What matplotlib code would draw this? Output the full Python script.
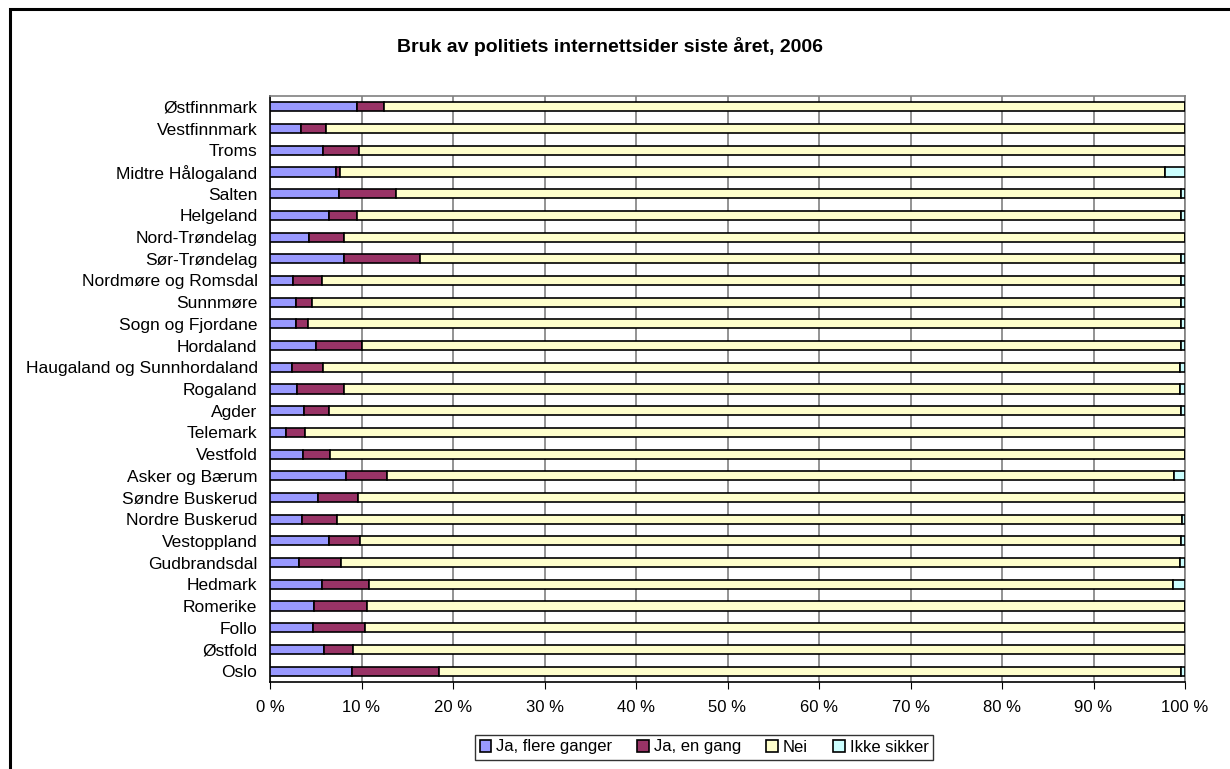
import numpy as np
import matplotlib
matplotlib.use('Agg')
import matplotlib.pyplot as plt
from matplotlib.patches import Rectangle

plt.rcParams['font.family'] = ['Liberation Sans', 'DejaVu Sans']

regions = ['Østfinnmark', 'Vestfinnmark', 'Troms', 'Midtre Hålogaland', 'Salten',
           'Helgeland', 'Nord-Trøndelag', 'Sør-Trøndelag', 'Nordmøre og Romsdal',
           'Sunnmøre', 'Sogn og Fjordane', 'Hordaland', 'Haugaland og Sunnhordaland',
           'Rogaland', 'Agder', 'Telemark', 'Vestfold', 'Asker og Bærum',
           'Søndre Buskerud', 'Nordre Buskerud', 'Vestoppland', 'Gudbrandsdal',
           'Hedmark', 'Romerike', 'Follo', 'Østfold', 'Oslo']

flere = [9.5, 3.35, 5.75, 7.2, 7.5, 6.4, 4.3, 8.1, 2.55,
         2.8, 2.8, 5.0, 2.4, 3.0, 3.7, 1.75, 3.6, 8.3,
         5.2, 3.45, 6.45, 3.2, 5.65, 4.85, 4.65, 5.95, 9.0]
en_gang = [3.0, 2.75, 3.95, 0.5, 6.3, 3.1, 3.8, 8.3, 3.15,
           1.75, 1.4, 5.0, 3.4, 5.1, 2.8, 2.05, 3.0, 4.45,
           4.45, 3.85, 3.35, 4.6, 5.15, 5.75, 5.75, 3.15, 9.5]
ikke = [0, 0, 0, 2.15, 0.45, 0.45, 0, 0.45, 0.45,
        0.45, 0.45, 0.45, 0.6, 0.6, 0.45, 0, 0, 1.15,
        0, 0.35, 0.45, 0.5, 1.35, 0, 0, 0, 0.45]
nei = [100 - a - b - c for a, b, c in zip(flere, en_gang, ikke)]

series = [('Ja, flere ganger', flere, '#9999FF'),
          ('Ja, en gang', en_gang, '#993366'),
          ('Nei', nei, '#FFFFCC'),
          ('Ikke sikker', ikke, '#CCFFFF')]

fig = plt.figure(figsize=(12.3, 7.69), dpi=100)
ax = fig.add_axes([270/1230, 1 - 682/769, 915/1230, 586/769])

y = np.arange(len(regions))[::-1]
left = np.zeros(len(regions))
for name, vals, col in series:
    vals = np.array(vals)
    ax.barh(y, vals, left=left, height=0.42, color=col, edgecolor='black',
            linewidth=1.2, label=name, zorder=3)
    left += vals

ax.set_xlim(0, 100)
ax.set_ylim(-0.5, len(regions) - 0.5)
ax.set_xticks(np.arange(0, 101, 10))
ax.set_xticklabels(['%d %%' % v for v in range(0, 101, 10)], fontsize=12)
ax.set_yticks(y)
ax.set_yticklabels(regions, fontsize=12.5)
ax.tick_params(axis='y', length=0, pad=9)
ax.tick_params(axis='x', length=5, direction='out', pad=8)
ax.grid(axis='x', color='#808080', linewidth=1.2, zorder=0)
for s in ['top', 'right']:
    ax.spines[s].set_color('#808080')
    ax.spines[s].set_linewidth(1.2)
for s in ['left', 'bottom']:
    ax.spines[s].set_color('black')
    ax.spines[s].set_linewidth(1.2)

fig.text(610/1230, 1 - 47/769, 'Bruk av politiets internettsider siste året, 2006',
         ha='center', va='center', fontsize=14, fontweight='bold')

leg = fig.legend(loc='center', bbox_to_anchor=(704/1230, 1 - 747/769), ncol=4,
                 frameon=True, fancybox=False, edgecolor='black', fontsize=12,
                 handlelength=0.7, handleheight=0.7, handletextpad=0.3,
                 columnspacing=1.5, borderpad=0.3)
leg.get_frame().set_linewidth(1.0)

fig.patches.append(Rectangle((10/1230, -0.1), 1.2, 1 - 9/769 + 0.1,
                             transform=fig.transFigure, fill=False,
                             edgecolor='black', linewidth=2.2))

fig.savefig('out.png', dpi=100)
